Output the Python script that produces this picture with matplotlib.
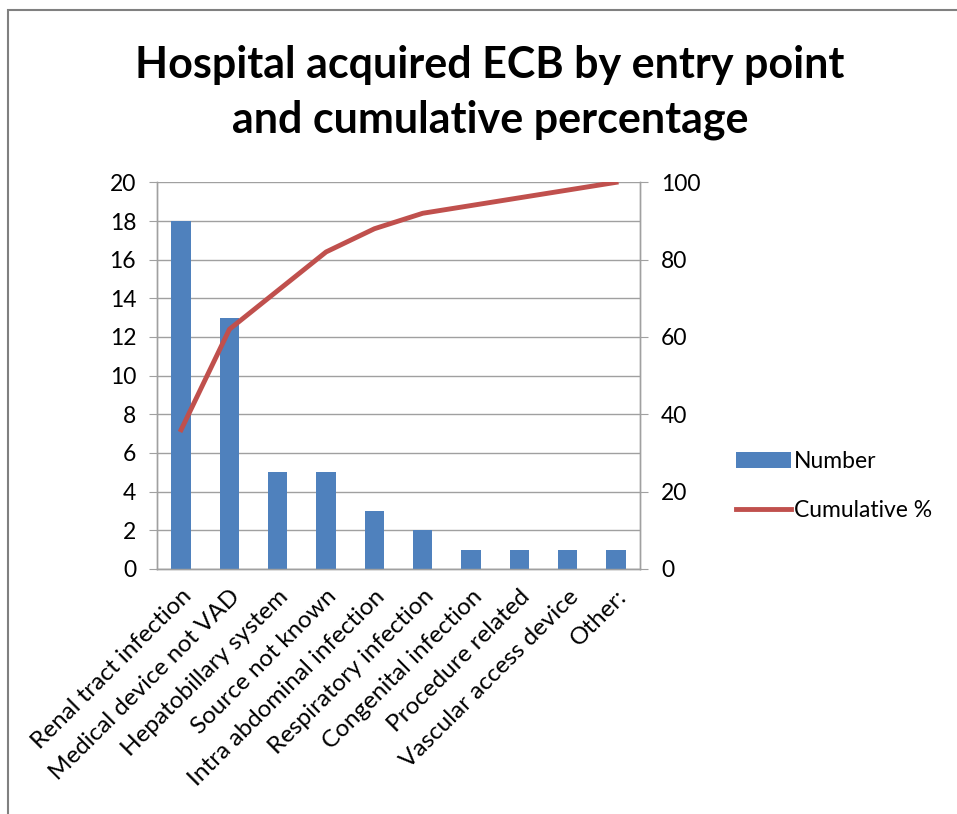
import numpy as np
import matplotlib.pyplot as plt
from matplotlib.patches import Rectangle

plt.rcParams["font.family"] = ["Lato", "DejaVu Sans"]

categories = [
    "Renal tract infection",
    "Medical device not VAD",
    "Hepatobillary system",
    "Source not known",
    "Intra abdominal infection",
    "Respiratory infection",
    "Congenital infection",
    "Procedure related",
    "Vascular access device",
    "Other:",
]
number = [18, 13, 5, 5, 3, 2, 1, 1, 1, 1]
cumulative_pct = [36, 62, 72, 82, 88, 92, 94, 96, 98, 100]

bar_color = "#4F81BD"
line_color = "#C0504D"
grid_color = "#A0A0A0"
fs = 16.5

fig = plt.figure(figsize=(9.57, 8.14), dpi=100)
ax = fig.add_axes([0.164, 0.301, 0.505, 0.475])
ax2 = ax.twinx()

x = np.arange(len(categories))
bars = ax.bar(x, number, width=0.4, color=bar_color, label="Number", zorder=3)
line, = ax2.plot(x, cumulative_pct, color=line_color, lw=3.5,
                 label="Cumulative %", zorder=4)

ax.set_xlim(-0.5, len(categories) - 0.5)
ax.set_ylim(0, 20)
ax.set_yticks(np.arange(0, 21, 2))
ax2.set_ylim(0, 100)
ax2.set_yticks(np.arange(0, 101, 20))

ax.yaxis.grid(True, color=grid_color, lw=1, zorder=0)
ax.set_axisbelow(True)
ax2.patch.set_visible(False)

ax.set_xticks(x)
ax.set_xticklabels(categories, rotation=45, ha="right", rotation_mode="anchor",
                   fontsize=17.5)
ax.tick_params(axis="x", length=0, pad=12)
ax.tick_params(axis="y", labelsize=fs, length=6, color=grid_color, pad=9)
ax2.tick_params(axis="y", labelsize=fs, length=6, color=grid_color, pad=9)

for a in (ax, ax2):
    a.spines["top"].set_visible(False)
    for side in ("left", "right", "bottom"):
        a.spines[side].set_color(grid_color)
        a.spines[side].set_linewidth(1)

fig.text(0.512, 0.886, "Hospital acquired ECB by entry point\nand cumulative percentage",
         ha="center", va="center", fontsize=31, fontweight="bold", linespacing=1.45)

fig.legend(handles=[bars, line], labels=["Number", "Cumulative %"],
           loc="center left", bbox_to_anchor=(0.769, 0.403), frameon=False,
           fontsize=fs, handlelength=2.4, handletextpad=0.15, labelspacing=1.2,
           borderpad=0, borderaxespad=0)

fig.patches.append(Rectangle((0.008, -0.1), 1.2, 1.088, transform=fig.transFigure,
                             fill=False, edgecolor="#808080", lw=1.5))

fig.savefig("out.png", dpi=100)
